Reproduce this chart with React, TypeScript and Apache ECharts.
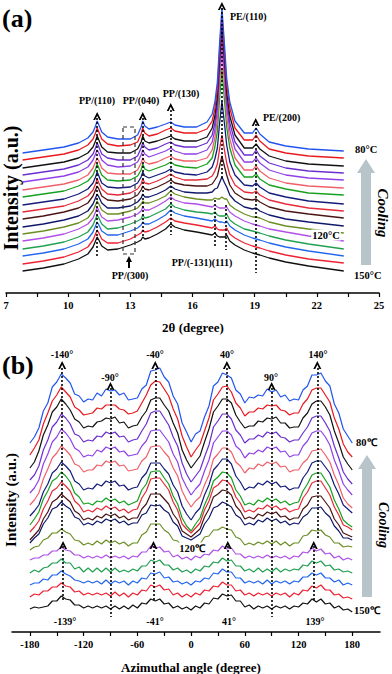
import React, { useEffect, useRef } from "react";
import * as echarts from "echarts";

const FONT = '"Liberation Serif", "Times New Roman", serif';

// ---------- Panel (a): WAXD profiles ----------
const X_A = [7.8, 8.8, 9.8, 10.5, 10.95, 11.2, 11.32, 11.4, 11.48, 11.62, 11.9, 12.4, 13.0, 13.35, 13.52, 13.6, 13.7, 13.9, 14.3, 14.7, 14.95, 15.15, 15.6, 16.2, 16.7, 16.95, 17.08, 17.2, 17.3, 17.42, 17.55, 17.65, 17.8, 18.05, 18.5, 18.9, 19.07, 19.25, 19.7, 20.5, 21.6, 23.3];
const OFF_A = [140, 133, 125, 118, 111, 103, 96, 88, 81, 74, 66, 59, 52, 44, 37, 29, 22];
const A0 = [0,3,6,10,15,21,27,32,28,21,16,14,14,18,26,32,27,24,26,29,31,28,26,26,31,39,51,71,107,145,106,75,51,32,20,20,25,19,11,7,4,2];
const A1 = [0,3,6,10,15,21,27,32,28,21,16,14,15,18,26,32,27,24,26,30,32,29,27,27,31,39,51,71,108,146,107,75,52,32,20,20,25,19,11,7,4,2];
const A2 = [0,3,6,10,15,21,27,32,28,21,16,15,15,19,26,32,27,25,27,30,32,29,27,27,31,40,52,72,109,148,108,76,52,33,20,20,24,19,12,7,4,2];
const A3 = [0,3,6,10,15,21,27,32,28,21,17,15,15,19,27,32,28,25,27,31,33,30,28,28,32,40,52,72,109,147,108,76,52,33,20,20,25,19,12,7,4,2];
const A4 = [0,3,6,10,15,22,28,32,29,22,17,15,16,20,27,32,28,25,28,31,34,31,28,28,32,40,52,72,108,145,107,76,52,33,20,20,24,19,12,7,4,2];
const A5 = [0,3,6,10,15,22,28,32,29,22,17,16,16,20,27,32,28,26,28,32,34,31,29,29,32,40,52,70,105,140,104,74,51,32,20,20,24,19,12,7,4,2];
const A6 = [0,3,6,11,16,22,28,33,29,22,17,16,17,21,27,33,28,26,29,32,35,32,30,29,33,39,50,66,96,128,95,70,49,32,20,20,23,18,12,8,4,2];
const A7 = [0,3,6,11,16,22,28,33,29,22,18,17,18,22,28,33,29,27,30,33,36,33,31,30,33,38,46,57,80,104,80,60,43,30,20,19,22,18,12,8,4,1];
const A8 = [0,3,6,11,16,22,28,33,29,23,18,17,19,23,28,33,29,28,31,35,38,35,32,32,33,36,41,48,62,77,61,49,37,27,20,19,21,17,12,8,4,1];
const A9 = [0,3,7,11,16,23,29,33,30,23,19,18,20,24,29,33,30,29,32,36,39,36,34,33,33,35,39,43,52,63,52,44,34,26,20,19,20,17,12,8,5,1];
const A10 = [0,3,7,11,16,23,29,33,30,24,19,19,21,25,29,33,30,30,33,37,41,38,35,34,34,35,38,39,44,50,44,40,32,26,20,18,19,16,12,8,5,1];
const A11 = [0,3,7,11,16,23,29,33,30,24,20,20,23,26,30,33,31,31,34,38,43,40,37,35,34,34,36,35,35,37,35,35,29,25,20,17,17,16,12,8,5,1];
const A12 = [0,3,7,12,17,23,29,34,30,24,20,21,24,27,30,34,31,31,35,40,44,41,38,37,35,34,36,34,33,33,33,34,29,25,20,17,16,15,12,9,5,0];
const A13 = [0,3,7,12,17,24,30,34,31,25,20,21,25,28,30,34,31,32,36,40,45,42,39,37,36,35,37,34,33,33,33,35,29,25,20,18,17,16,13,9,5,0];
const A14 = [0,3,7,12,17,24,30,34,31,25,21,21,25,28,31,34,32,32,36,41,46,43,40,38,36,35,37,35,34,34,33,35,30,26,21,18,17,16,13,9,5,0];
const A15 = [0,3,7,12,17,24,30,34,31,25,21,21,25,29,31,34,32,33,37,42,46,43,41,39,37,36,38,35,34,34,34,36,30,26,21,18,17,16,13,9,5,1];
const A16 = [0,3,7,12,17,24,30,34,31,25,21,22,26,29,31,34,32,33,37,42,47,44,41,39,37,36,38,35,34,34,34,36,30,26,21,18,17,16,13,9,5,0];
const REL_A = [A0, A1, A2, A3, A4, A5, A6, A7, A8, A9, A10, A11, A12, A13, A14, A15, A16];
const COLORS_A = ["#2255ee", "#e8191f", "#111111", "#6b2fd0", "#9040e8", "#f0606a", "#18a020", "#141b7a", "#e62a3a", "#4a1414", "#10186a", "#6b8e23", "#b050e8", "#20a050", "#2266ee", "#ee2233", "#111111"];
const TICK_A = [7, 8.5, 10, 11.5, 13, 14.5, 16, 17.5, 19, 20.5, 22, 23.5, 25];
const LABEL_A = [7, 10, 13, 16, 19, 22, 25];

// ---------- Panel (b): azimuthal profiles ----------
const ANGLES = Array.from({ length: 73 }, (_, k) => -180 + 5 * k);
const OFF_B = [189, 177, 164, 152, 139, 127, 116, 107, 100, 92, 89, 82, 72, 59, 47, 35, 23];
const B0 = [0,6,15,32,40,56,61,69,65,60, 49,47,41,44,43,50,47,54,52,53, 48,50,43,44,45,54,58,72,73,75, 66,61,47,39,20,11,1,9,12,26, 37,57,61,70,68,65,53,49,40,46, 45,48,47,54,51,53,46,48,42,44, 43,53,57,68,68,70,62,57,39,30, 14,7,0];
const B1 = [0,7,15,31,42,54,60,68,63,58, 48,45,40,41,42,47,46,50,50,50, 46,45,41,42,44,52,60,70,74,73, 66,59,46,36,19,8,-2,5,11,24, 37,55,61,68,69,63,52,47,39,43, 43,47,46,50,49,50,45,44,40,42, 42,51,56,65,67,67,60,53,37,26, 11,3,-2];
const B2 = [0,6,17,33,43,56,61,69,64,58, 49,46,40,42,41,46,47,50,49,51, 45,46,40,42,43,51,57,68,70,70, 63,57,45,35,18,8,0,6,12,26, 39,56,62,69,69,65,53,46,40,42, 42,47,46,50,49,51,45,45,40,41, 41,50,55,64,67,67,61,53,37,25, 11,4,-2];
const B3 = [0,5,14,30,40,53,58,66,62,56, 46,44,38,40,39,44,43,48,46,48, 43,44,38,40,41,49,56,67,69,69, 62,55,43,34,17,6,-2,4,10,23, 35,53,59,66,66,61,50,45,37,41, 41,45,43,48,46,48,43,42,38,40, 40,47,53,62,64,64,57,49,34,22, 8,1,-4];
const B4 = [0,5,13,29,39,51,56,64,60,54, 45,42,36,38,37,43,41,46,44,46, 41,42,37,38,39,47,52,62,63,63, 57,51,39,31,15,6,-2,4,9,22, 33,50,56,62,62,58,47,43,35,40, 39,43,41,46,44,46,41,42,36,38, 38,47,52,60,62,62,56,48,33,22, 9,3,-2];
const B5 = [0,5,12,26,36,47,52,59,55,50, 41,39,33,35,35,40,39,44,42,44, 39,40,34,35,36,44,48,58,59,59, 53,48,37,29,14,5,-2,4,8,20, 30,46,51,57,57,53,43,39,32,37, 36,41,39,43,41,43,38,39,33,35, 35,42,46,54,55,56,50,43,30,20, 7,1,-3];
const B6 = [0,5,11,24,32,43,47,54,50,45, 35,32,26,28,27,32,30,35,33,35, 30,31,26,28,29,38,43,53,53,53, 47,42,31,24,10,2,-4,3,8,21, 31,46,51,57,57,52,40,34,26,29, 28,33,31,35,32,34,29,30,26,28, 28,38,44,53,55,55,49,43,31,22, 11,7,3];
const B7 = [0,6,13,26,34,44,47,53,49,43, 32,28,21,22,20,24,23,27,24,26, 22,24,20,22,24,35,41,53,54,54, 47,41,29,21,7,-1,-6,1,7,20, 30,44,48,53,52,47,35,29,20,22, 20,25,23,27,24,26,22,24,20,22, 23,34,41,50,52,52,45,38,25,16, 5,1,-2];
const B8 = [0,5,11,23,31,41,44,50,46,41, 31,27,20,22,20,24,22,26,23,25, 21,23,19,22,23,34,41,53,54,54, 48,42,30,22,8,3,-1,4,9,22, 31,44,47,52,51,46,35,29,20,22, 20,24,23,27,24,26,22,24,20,22, 23,34,40,49,51,51,44,37,25,17, 7,5,2];
const B9 = [0,5,10,21,28,38,41,46,42,38, 29,26,20,22,20,24,22,26,24,26, 22,24,20,22,22,31,36,46,46,46, 41,36,26,20,9,6,3,7,11,23, 31,43,46,50,49,45,34,29,21,23, 21,26,24,28,26,28,23,24,20,22, 22,31,35,43,44,44,38,32,21,15, 7,5,3];
const B10 = [0,5,9,19,25,34,36,41,37,34, 26,24,18,20,18,22,20,24,22,24, 20,22,18,20,20,28,30,38,37,38, 33,30,21,17,7,5,3,6,9,19, 25,35,37,41,39,36,28,25,18,20, 18,23,21,25,22,24,20,22,18,20, 19,26,29,35,35,36,30,26,17,12, 5,5,3];
const B11 = [0,3,4,10,12,17,17,21,18,16, 10,9,5,7,5,9,6,10,7,9, 6,8,4,7,7,15,18,26,26,26, 20,17,10,9,3,5,2,5,6,13, 14,20,20,23,21,20,13,11,5,7, 5,8,6,9,6,9,5,8,4,7, 7,14,15,20,19,20,15,13,7,7, 3,4,3];
const B12 = [0,2,2,5,5,9,9,13,10,9, 5,5,2,4,2,4,2,5,2,4, 2,4,1,4,3,8,8,14,12,13, 8,9,3,5,1,3,0,4,2,6, 5,10,9,14,11,12,6,6,2,4, 2,4,2,5,2,4,2,4,1,4, 3,8,7,12,9,11,6,7,2,4, 0,2,0];
const B13 = [0,3,1,5,6,10,10,14,10,10, 4,6,1,5,1,5,1,5,1,5, 1,3,1,4,2,7,7,13,11,13, 8,8,3,5,1,3,0,4,2,7, 6,11,10,15,12,13,7,7,2,4, 1,5,1,4,1,5,1,4,2,4, 3,8,7,12,10,12,7,8,3,4, 1,2,0];
const B14 = [0,2,2,6,5,10,10,14,11,9, 5,4,2,4,2,4,1,5,1,4, 2,4,0,4,2,7,6,12,11,13, 7,8,3,4,1,3,0,4,3,7, 6,12,11,16,13,13,7,7,2,4, 2,4,1,5,1,4,2,4,1,4, 3,8,8,12,10,12,7,7,3,5, 0,2,0];
const B15 = [0,3,2,6,6,10,10,14,11,10, 5,6,2,4,2,4,2,4,1,5, 1,4,0,4,2,7,6,12,10,12, 7,8,2,4,0,3,0,4,2,7, 6,11,10,15,12,12,6,7,2,4, 1,4,2,4,1,4,2,4,0,4, 2,7,6,11,9,12,7,7,2,3, -1,0,-2];
const B16 = [0,2,1,2,3,8,8,13,10,9, 4,4,1,3,1,3,1,3,0,3, 0,3,0,4,1,6,5,10,8,10, 5,6,1,3,0,2,-1,3,1,6, 5,11,10,15,13,14,8,8,2,4, 0,3,1,3,0,3,1,3,0,3, 2,6,5,10,7,10,5,6,1,3, -1,0,-3];
const REL_B = [B0, B1, B2, B3, B4, B5, B6, B7, B8, B9, B10, B11, B12, B13, B14, B15, B16];
const COLORS_B = ["#2255ee", "#e8191f", "#111111", "#6b2fd0", "#9040e8", "#f0606a", "#141b7a", "#18a020", "#e62a3a", "#4a1414", "#10186a", "#6b8e23", "#b050e8", "#20a050", "#2266ee", "#ee2233", "#111111"];
const TICK_B = [-180, -150, -120, -90, -60, -30, 0, 30, 60, 90, 120, 150, 180];
const LABEL_B = [-180, -120, -60, 0, 60, 120, 180];

// annotation positions (data coordinates)
const LINES_A = [[11.4, 175, 36], [13.6, 175, 56], [14.95, 183, 58], [17.42, 285, 115], [17.07, 93, 46], [17.6, 88, 43], [19.05, 169, 20]];
const ARROWS_A = [[11.4, 181], [13.6, 181], [14.95, 190], [17.42, 291], [19.05, 175]];
const LINES_B = [[-144, 264, 92], [-40, 264, 92], [40, 264, 92], [141, 264, 92], [-143, 86, 32], [-42, 86, 32], [41, 86, 32], [137, 86, 32], [-90, 244, 15], [90, 244, 15]];
const ARROWS_B = [[-144, 271], [-40, 271], [40, 271], [141, 271], [-90, 250], [90, 250], [-143, 91], [-42, 91], [41, 91], [137, 91]];

const CHEVRON = "path://M0,10 L5,0 L10,10 L7.6,10 L5,4.6 L2.4,10 Z";

function txt(text: string, x: number, y: number, size: number, align = "center", extra: any = {}, rotation = 0) {
  return {
    type: "text",
    x,
    y,
    z: 100,
    rotation,
    style: {
      text,
      fill: "#000",
      fontFamily: FONT,
      fontWeight: "bold",
      fontSize: size,
      align,
      verticalAlign: "middle",
      ...extra,
    },
  };
}

function buildOption() {
  const series: any[] = [];
  for (let i = REL_A.length - 1; i >= 0; i--) {
    series.push({
      type: "line",
      xAxisIndex: 0,
      yAxisIndex: 0,
      symbol: "none",
      silent: true,
      lineStyle: { color: COLORS_A[i], width: 1.3 },
      data: X_A.map((x, k) => [x, OFF_A[i] + REL_A[i][k]]),
    });
  }
  for (let i = REL_B.length - 1; i >= 0; i--) {
    series.push({
      type: "line",
      xAxisIndex: 1,
      yAxisIndex: 1,
      symbol: "none",
      silent: true,
      lineStyle: { color: COLORS_B[i], width: 1.2 },
      data: ANGLES.map((a, k) => [a, OFF_B[i] + REL_B[i][k]]),
    });
  }
  const dotted = { color: "#000", width: 1.6, type: [2, 2] };
  series.push({
    type: "line",
    xAxisIndex: 0,
    yAxisIndex: 0,
    symbol: "none",
    lineStyle: { width: 0 },
    data: [[7, 0]],
    z: 5,
    markLine: {
      silent: true,
      symbol: ["none", "none"],
      label: { show: false },
      lineStyle: dotted,
      data: LINES_A.map(([x, a, b]) => [{ coord: [x, a] }, { coord: [x, b] }]),
    },
    markPoint: {
      silent: true,
      symbol: CHEVRON,
      symbolSize: [8, 8],
      symbolOffset: [0, "50%"],
      itemStyle: { color: "#000" },
      label: { show: false },
      data: ARROWS_A.map(([x, v]) => ({ coord: [x, v] })),
    },
  });
  series.push({
    type: "line",
    xAxisIndex: 1,
    yAxisIndex: 1,
    symbol: "none",
    lineStyle: { width: 0 },
    data: [[-180, 0]],
    z: 5,
    markLine: {
      silent: true,
      symbol: ["none", "none"],
      label: { show: false },
      lineStyle: dotted,
      data: LINES_B.map(([x, a, b]) => [{ coord: [x, a] }, { coord: [x, b] }]),
    },
    markPoint: {
      silent: true,
      symbol: CHEVRON,
      symbolSize: [8, 8],
      symbolOffset: [0, "50%"],
      itemStyle: { color: "#000" },
      label: { show: false },
      data: ARROWS_B.map(([x, v]) => ({ coord: [x, v] })),
    },
  });

  const axisCommon = (ticks: number[], labels: number[]) => ({
    type: "value",
    axisLine: { show: true, onZero: false, lineStyle: { color: "#000", width: 1.5 } },
    axisTick: { show: true, customValues: ticks, length: 4, lineStyle: { color: "#000", width: 1.2 } },
    axisLabel: { customValues: labels, color: "#000", fontFamily: FONT, fontWeight: "bold", fontSize: 10.5, margin: 7 },
    splitLine: { show: false },
  });

  const arrowA = [[366, 159], [375, 173], [371, 173], [371, 265], [361, 265], [361, 173], [357, 173]];
  const arrowB = [[367, 455], [376, 469], [372, 469], [372, 597], [362, 597], [362, 469], [358, 469]];

  return {
    animation: false,
    backgroundColor: "#fff",
    grid: [
      { left: 6, width: 373, top: 0, height: 293 },
      { left: 12, width: 368, top: 337, height: 295 },
    ],
    xAxis: [
      { gridIndex: 0, min: 7, max: 25, ...axisCommon(TICK_A, LABEL_A) },
      { gridIndex: 1, min: -200, max: 211, ...axisCommon(TICK_B, LABEL_B) },
    ],
    yAxis: [
      { gridIndex: 0, type: "value", min: 0, max: 293, show: false },
      { gridIndex: 1, type: "value", min: 0, max: 295, show: false },
    ],
    series,
    graphic: [
      txt("(a)", 2, 18, 26, "left"),
      txt("(b)", 2, 365, 26, "left"),
      txt("PP/(110)", 97, 100, 10),
      txt("PP/(040)", 141, 100, 10),
      txt("PP/(130)", 181, 93, 10),
      txt("PE/(110)", 230, 16, 10, "left"),
      txt("PE/(200)", 263, 117, 10, "left"),
      txt("PP/(300)", 130, 275, 10),
      txt("PP/(-131)(111)", 202, 262, 10),
      { type: "polygon", z: 100, shape: { points: [[129, 256], [132, 262], [130, 262], [130, 268], [128, 268], [128, 262], [126, 262]] }, style: { fill: "#000" } },
      { type: "rect", z: 100, shape: { x: 123, y: 127, width: 12, height: 127 }, style: { fill: "none", stroke: "#333", lineWidth: 1.2, lineDash: [4, 3] } },
      txt("80°C", 355, 149, 10.5, "left"),
      txt("150°C", 354, 275, 10.5, "left"),
      txt("120°C", 326, 235, 10.5, "center", { backgroundColor: "#fff", padding: [0, 1] }),
      { type: "polygon", z: 90, shape: { points: arrowA }, style: { fill: "#b7c5ca" } },
      txt("Cooling", 383, 213, 15, "center", { fontStyle: "italic" }, -Math.PI / 2),
      txt("Intensity (a.u.)", 11, 188, 20, "center", {}, Math.PI / 2),
      txt("2θ (degree)", 193, 327, 13),
      txt("-140°", 62, 354, 10),
      txt("-90°", 110, 377, 10),
      txt("-40°", 155, 354, 10),
      txt("40°", 227, 354, 10),
      txt("90°", 271, 377, 10),
      txt("140°", 318, 354, 10),
      txt("-139°", 65, 621, 10),
      txt("-41°", 155, 621, 10),
      txt("41°", 229, 621, 10),
      txt("139°", 315, 621, 10),
      txt("80℃", 356, 442, 10.5, "left"),
      txt("150℃", 354, 610, 10.5, "left"),
      txt("120℃", 192, 548, 10.5, "center", { backgroundColor: "#fff", padding: [0, 1] }),
      { type: "polygon", z: 90, shape: { points: arrowB }, style: { fill: "#b7c5ca" } },
      txt("Cooling", 383, 525, 14, "center", { fontStyle: "italic" }, -Math.PI / 2),
      txt("Intensity (a.u.)", 11, 500, 15, "center", {}, Math.PI / 2),
      txt("Azimuthal angle (degree)", 191, 667, 13),
    ],
  };
}

export default function App() {
  const ref = useRef<HTMLDivElement>(null);
  useEffect(() => {
    document.body.style.margin = "0";
    const chart = echarts.init(ref.current as HTMLDivElement, null, { renderer: "svg" });
    chart.setOption(buildOption() as any);
    return () => chart.dispose();
  }, []);
  return <div ref={ref} style={{ width: 392, height: 674 }} />;
}
